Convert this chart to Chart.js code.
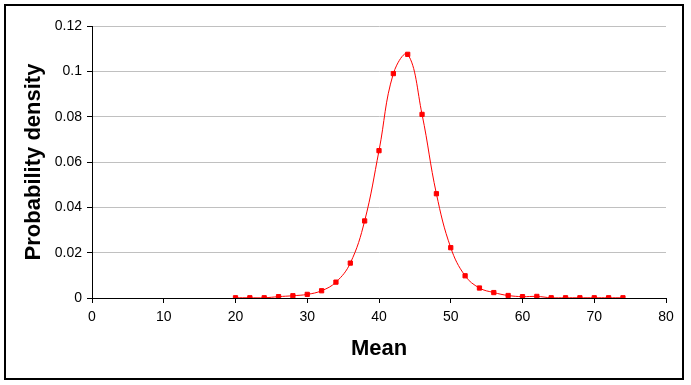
<!DOCTYPE html>
<html>
<head>
<meta charset="utf-8">
<script src="https://cdn.jsdelivr.net/npm/chart.js@4/dist/chart.umd.min.js"></script>
<style>
  html, body { margin: 0; padding: 0; background: #fff; }
  canvas { display: block; }
</style>
</head>
<body>
<canvas id="chart" width="691" height="385"></canvas>
<script>
'use strict'

// values
const means = [20, 22, 24, 26, 28, 30, 32, 34, 36, 38, 40, 42, 44, 46,
  48, 50, 52, 54, 56, 58, 60, 62, 64, 66, 68, 70, 72, 74]
const density = [0.0001, 0.0001, 0.0001, 0.0006, 0.0010, 0.0016, 0.0032, 0.0070,
  0.0154, 0.0340, 0.0650, 0.0990, 0.1075, 0.0810, 0.0460, 0.0222, 0.0098,
  0.0044, 0.0024, 0.0011, 0.0006, 0.0007, 0.0001, 0.0001, 0.0001, 0.0001,
  0.0001, 0.0001]
const xTicks = [0, 10, 20, 30, 40, 50, 60, 70, 80]
const yTicks = [0, 0.02, 0.04, 0.06, 0.08, 0.1, 0.12]

const points = means.map((m, i) => ({ x: m, y: density[i] }))

const frame = {
  id: 'frame',
  beforeDraw (chart) {
    const ctx = chart.ctx
    ctx.save()
    ctx.fillStyle = '#fff'
    ctx.fillRect(0, 0, chart.width, chart.height)
    ctx.strokeStyle = '#000'
    ctx.lineWidth = 2
    ctx.strokeRect(5, 5, 678, 374)
    ctx.restore()
  }
}

const tickFont = { family: 'Liberation Sans, Arial, sans-serif', size: 14 }
const titleFont = { family: 'Liberation Sans, Arial, sans-serif', size: 22, weight: 'bold' }

new Chart(document.getElementById('chart'), {
  type: 'scatter',
  data: {
    datasets: [{
      data: points,
      showLine: true,
      borderColor: '#ff0000',
      borderWidth: 1,
      tension: 0.4,
      pointStyle: 'rect',
      pointRadius: 3,
      pointBackgroundColor: '#ff0000',
      pointBorderColor: '#ff0000',
      pointBorderWidth: 1
    }]
  },
  options: {
    responsive: false,
    animation: false,
    layout: { padding: { left: 0, top: 26, right: 25, bottom: 0 } },
    plugins: { legend: { display: false }, tooltip: { enabled: false } },
    scales: {
      x: {
        type: 'linear',
        min: 0,
        max: 80,
        afterFit: scale => { scale.height = 87 },
        afterBuildTicks: scale => { scale.ticks = xTicks.map(v => ({ value: v })) },
        grid: { drawOnChartArea: false, drawTicks: true, tickLength: 5, tickColor: '#000' },
        border: { color: '#000', width: 1, z: 1 },
        ticks: { font: tickFont, color: '#000', padding: 6, maxRotation: 0 },
        title: { display: true, text: 'Mean', font: titleFont, color: '#000', padding: { bottom: 23 } }
      },
      y: {
        type: 'linear',
        min: 0,
        max: 0.12,
        afterFit: scale => { scale.width = 92 },
        afterBuildTicks: scale => { scale.ticks = yTicks.map(v => ({ value: v })) },
        grid: { color: '#c0c0c0', lineWidth: 1, tickLength: 5, tickColor: '#000' },
        border: { color: '#000', width: 1, z: 1 },
        ticks: {
          font: tickFont,
          color: '#000',
          padding: 5,
          callback: v => String(Number(v.toFixed(2)))
        },
        title: { display: true, text: 'Probability density', font: titleFont, color: '#000', padding: { top: 21 } }
      }
    }
  },
  plugins: [frame]
})
</script>
</body>
</html>
